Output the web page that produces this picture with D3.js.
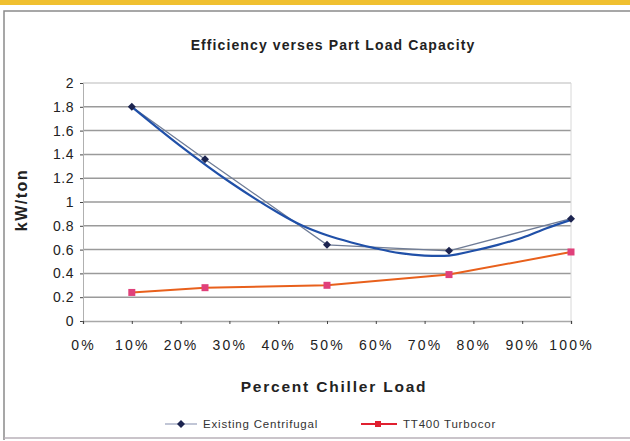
<!DOCTYPE html>
<html><head><meta charset="utf-8">
<script src="https://cdn.jsdelivr.net/npm/d3@7"></script>
<style>body{margin:0;background:#fff}svg{display:block}text{font-family:"Liberation Sans",Arial,sans-serif}</style>
</head><body><svg id="c" width="630" height="441"></svg>
<script>
const loads = [0.10, 0.25, 0.50, 0.75, 1.00];
const existingCentrifugal = [1.80, 1.36, 0.64, 0.59, 0.86];
const tt400Turbocor = [0.24, 0.28, 0.30, 0.39, 0.58];
// hand-drawn trace over the existing centrifugal curve
const traceLoads = [0.10, 0.20, 0.30, 0.40, 0.45, 0.50, 0.55, 0.60, 0.65, 0.70, 0.75, 0.80, 0.85, 0.90, 0.95, 1.00];
const traceValues = [1.80, 1.47, 1.17, 0.91, 0.80, 0.72, 0.66, 0.61, 0.57, 0.55, 0.55, 0.59, 0.64, 0.70, 0.78, 0.85];
const xTicks = [0,0.1,0.2,0.3,0.4,0.5,0.6,0.7,0.8,0.9,1.0];
const yTicks = [0,0.2,0.4,0.6,0.8,1,1.2,1.4,1.6,1.8,2];
const seriesNames = ["Existing Centrifugal", "TT400 Turbocor"];

const svg = d3.select("#c");
svg.append("rect").attr("x",0).attr("y",0).attr("width",630).attr("height",5).attr("fill","#f0c030");
svg.append("path").attr("d","M4,440 V11 H630").attr("fill","none").attr("stroke","#8a8a8a").attr("stroke-width",1.5);
svg.append("line").attr("x1",4).attr("x2",630).attr("y1",438).attr("y2",438).attr("stroke","#b8b0b8").attr("stroke-width",1.5);

const x = d3.scaleLinear().domain([0,1]).range([83,571]);
const y = d3.scaleLinear().domain([0,2]).range([321,83]);

svg.append("g").selectAll("line").data(yTicks.filter(d=>d>0)).join("line")
  .attr("x1",x(0)).attr("x2",x(1)).attr("y1",d=>y(d)).attr("y2",d=>y(d))
  .attr("stroke",d=>d===2?"#d0d0d0":"#9a9a9a").attr("stroke-width",1.5);
svg.append("line").attr("x1",x(1)).attr("x2",x(1)).attr("y1",y(2)).attr("y2",y(0)).attr("stroke","#d8d8d8");

const yAxis = d3.axisLeft(y).tickValues(yTicks).tickSize(3).tickFormat(d=>String(d));
const gy = svg.append("g").attr("transform",`translate(${x(0)},0)`).call(yAxis);
gy.select(".domain").attr("stroke","#b0b0b0");
gy.selectAll(".tick line").attr("stroke","#444");
gy.selectAll("text").attr("font-size",14).attr("fill","#222").attr("x",-9).attr("letter-spacing",0.5);

const xAxis = d3.axisBottom(x).tickValues(xTicks).tickSize(3).tickFormat(d=>Math.round(d*100)+"%");
const gx = svg.append("g").attr("transform",`translate(0,${y(0)})`).call(xAxis);
gx.select(".domain").attr("stroke","#a8a8a8").attr("stroke-width",1.5);
gx.selectAll(".tick line").attr("stroke","#444");
gx.selectAll("text").attr("font-size",14).attr("fill","#222").attr("y",19).attr("letter-spacing",2.2);

svg.append("text").attr("x",333).attr("y",50).attr("text-anchor","middle").attr("font-size",14).attr("font-weight","bold").attr("fill","#222").attr("letter-spacing",1.1).text("Efficiency verses Part Load Capacity");
svg.append("text").attr("transform","translate(27,200) rotate(-90)").attr("text-anchor","middle").attr("font-size",16).attr("font-weight","bold").attr("fill","#222").attr("letter-spacing",1.5).text("kW/ton");
svg.append("text").attr("x",334).attr("y",392).attr("text-anchor","middle").attr("font-size",15.5).attr("font-weight","bold").attr("fill","#222").attr("letter-spacing",1.8).text("Percent Chiller Load");

const line = d3.line().x(d=>x(d[0])).y(d=>y(d[1]));
const tData = loads.map((l,i)=>[l,tt400Turbocor[i]]);
svg.append("path").datum(tData).attr("d",line).attr("fill","none").attr("stroke","#e8601c").attr("stroke-width",2);
svg.append("g").selectAll("rect").data(tData).join("rect")
  .attr("x",d=>x(d[0])-3.5).attr("y",d=>y(d[1])-3.5).attr("width",7).attr("height",7).attr("fill","#e0407a");

const eData = loads.map((l,i)=>[l,existingCentrifugal[i]]);
svg.append("path").datum(eData).attr("d",line).attr("fill","none").attr("stroke","#6f7c96").attr("stroke-width",1.3);
const trData = traceLoads.map((l,i)=>[l,traceValues[i]]);
svg.append("path").datum(trData).attr("d",d3.line().x(d=>x(d[0])).y(d=>y(d[1])).curve(d3.curveCatmullRom)).attr("fill","none").attr("stroke","#2050a8").attr("stroke-width",2.2);
const diamondPath = "M0,-4L4,0L0,4L-4,0Z";
svg.append("g").selectAll("path").data(eData).join("path")
  .attr("transform",d=>`translate(${x(d[0])},${y(d[1])})`).attr("d",diamondPath).attr("fill","#1c2450");

const lg = svg.append("g");
lg.append("line").attr("x1",165).attr("x2",197).attr("y1",424).attr("y2",424).attr("stroke","#a0a8c0").attr("stroke-width",1.3);
lg.append("path").attr("transform","translate(181,424)").attr("d",diamondPath).attr("fill","#1c2450");
lg.append("text").attr("x",203).attr("y",428).attr("font-size",11.5).attr("fill","#333").attr("letter-spacing",0.8).text(seriesNames[0]);
lg.append("line").attr("x1",361).attr("x2",397).attr("y1",424).attr("y2",424).attr("stroke","#e02030").attr("stroke-width",2);
lg.append("rect").attr("x",375).attr("y",421).attr("width",6).attr("height",6).attr("fill","#e02030");
lg.append("text").attr("x",403).attr("y",428).attr("font-size",11.5).attr("fill","#333").attr("letter-spacing",0.8).text(seriesNames[1]);
</script></body></html>
